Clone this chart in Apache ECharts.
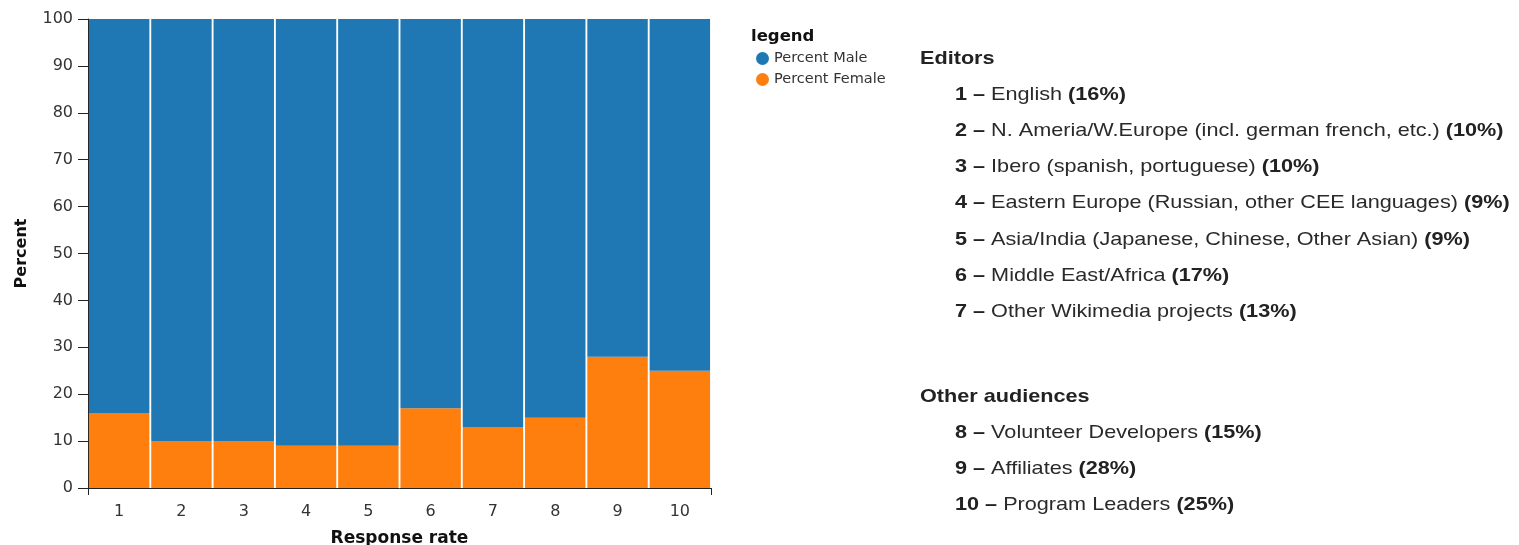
<!DOCTYPE html>
<html>
<head>
<meta charset="utf-8">
<script src="https://cdn.jsdelivr.net/npm/echarts@6/dist/echarts.min.js"></script>
<style>
html,body{margin:0;padding:0;background:#fff;overflow:hidden;}
#chart{width:1519px;height:545px;}
</style>
</head>
<body>
<div id="chart"></div>
<script>
const categories = ['1','2','3','4','5','6','7','8','9','10'];
const percentFemale = [16, 10, 10, 9, 9, 17, 13, 15, 28, 25];
const percentMale = [84, 90, 90, 91, 91, 83, 87, 85, 72, 75];
const groupEditors = ['English','N. Ameria/W.Europe (incl. german french, etc.)','Ibero (spanish, portuguese)','Eastern Europe (Russian, other CEE languages)','Asia/India (Japanese, Chinese, Other Asian)','Middle East/Africa','Other Wikimedia projects'];
const groupOther = ['Volunteer Developers','Affiliates','Program Leaders'];
const yTicks = {min:0, max:100, interval:10};

const chart = echarts.init(document.getElementById('chart'));
const axisFont = {fontFamily:'DejaVu Sans', fontSize:16, color:'#333'};
const textFont = 'Liberation Sans';
const SX = 1.17;

const graphics = [];
function heading(txt, y){
  graphics.push({type:'text', left:920, top:y, scaleX:SX, style:{text:txt, font:'bold 18.5px "'+textFont+'"', fill:'#222'}});
}
function item(num, label, pct, y){
  graphics.push({type:'text', left:955, top:y, scaleX:SX, style:{
    text:'{b|'+num+' \u2013 }{n|'+label+' }{b|('+pct+'%)}',
    rich:{b:{fontFamily:textFont,fontWeight:'bold',fontSize:18.5,fill:'#222'}, n:{fontFamily:textFont,fontSize:18.5,fill:'#2a2a2a'}}
  }});
}
heading('Editors', 49);
groupEditors.forEach((l,i)=>item(i+1, l, percentFemale[i], 85 + i*36.3));
heading('Other audiences', 387);
groupOther.forEach((l,i)=>item(i+8, l, percentFemale[i+7], 423 + i*36.3));
graphics.push({type:'text', left:751, top:28, style:{text:'legend', font:'bold 16.5px "DejaVu Sans"', fill:'#111'}});

chart.setOption({
  animation:false,
  grid:{left:88, right:808, top:19, bottom:57, outerBoundsMode:'none', containLabel:false},
  legend:{orient:'vertical', left:751, top:46, icon:'circle', itemWidth:13, itemHeight:13, itemGap:6,
    textStyle:{fontFamily:'DejaVu Sans', fontSize:14.5, color:'#333'},
    data:['Percent Male','Percent Female']},
  graphic:graphics,
  xAxis:[{
    type:'category', data:categories, name:'Response rate', nameLocation:'middle', nameGap:42,
    nameTextStyle:{fontFamily:'DejaVu Sans', fontSize:17, fontWeight:'bold', color:'#111'},
    axisLine:{lineStyle:{color:'#222', width:1}},
    axisTick:{alignWithLabel:true, length:7, lineStyle:{color:'#222'}},
    axisLabel:Object.assign({margin:16}, axisFont)
  },{
    type:'category', data:categories, position:'bottom',
    axisLine:{show:false}, axisLabel:{show:false},
    axisTick:{show:true, interval:function(i){return i===0;}, length:7, lineStyle:{color:'#222'}}
  }],
  yAxis:{
    type:'value', min:yTicks.min, max:yTicks.max, interval:yTicks.interval,
    name:'Percent', nameLocation:'middle', nameGap:58,
    nameTextStyle:{fontFamily:'DejaVu Sans', fontSize:16, fontWeight:'bold', color:'#111'},
    axisLine:{show:true, lineStyle:{color:'#222'}},
    axisTick:{show:true, length:10, lineStyle:{color:'#222'}},
    axisLabel:Object.assign({margin:15}, axisFont),
    splitLine:{show:false}
  },
  series:[
    {name:'Percent Female', type:'bar', stack:'s', data:percentFemale, barCategoryGap:'3%', itemStyle:{color:'#ff7f0e'}},
    {name:'Percent Male', type:'bar', stack:'s', data:percentMale, barCategoryGap:'3%', itemStyle:{color:'#1f77b4'}}
  ]
});
</script>
</body>
</html>
